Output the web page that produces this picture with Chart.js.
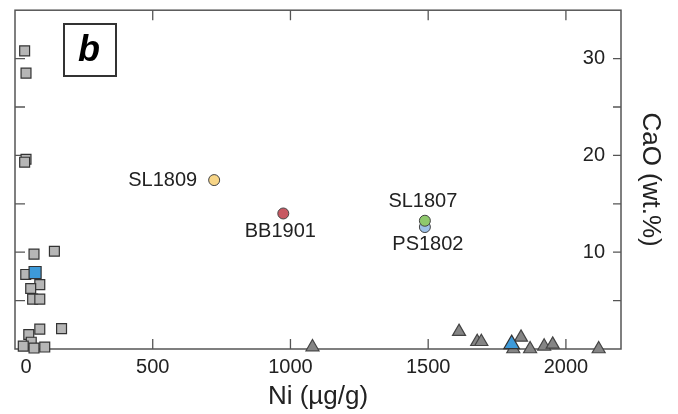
<!DOCTYPE html>
<html>
<head>
<meta charset="utf-8">
<script src="https://cdn.jsdelivr.net/npm/chart.js@4/dist/chart.umd.min.js"></script>
<style>
  html, body { margin: 0; padding: 0; background: #fff; }
  #wrap { width: 678px; height: 414px; }
</style>
</head>
<body>
<div id="wrap"><canvas id="chart" width="678" height="414"></canvas></div>
<script>
// data: Ni (µg/g) vs CaO (wt.%)
const squareNi  = [35, 40, 40, 35, 69, 143, 39, 90, 57, 64, 90, 90, 169, 50, 59, 30, 69, 108];
const squareCaO = [30.8, 28.5, 19.6, 19.3, 9.8, 10.1, 7.7, 6.65, 6.25, 5.15, 5.15, 2.05, 2.1, 1.5, 0.7, 0.3, 0.1, 0.2];
const blueSquareNi  = [73];
const blueSquareCaO = [7.9];

const triangleNi  = [1080, 1612, 1678, 1693, 1837, 1809, 1870, 1921, 1952, 2119];
const triangleCaO = [0.2, 1.8, 0.75, 0.75, 1.2, 0, 0, 0.28, 0.48, 0];
const blueTriangleNi  = [1803];
const blueTriangleCaO = [0.5];

const sampleNames = ["SL1807", "PS1802", "SL1809", "BB1901"];
const sampleNi    = [1488, 1488, 723, 974];
const sampleCaO   = [13.25, 12.6, 17.45, 14.0];
const sampleColors = ["#8fc96d", "#9dc1e8", "#f7d587", "#c75862"];

const xTicks = [0, 500, 1000, 1500, 2000];
const yTicks = [10, 20, 30];
const yMinorTicks = [5, 10, 15, 20, 25, 30];

function toPoints(xs, ys) {
    return xs.map((x, i) => ({ x: x, y: ys[i] }));
}

const FONT = "'Liberation Sans', Arial, sans-serif";

// label offsets relative to each sample point (pixels)
const labelPlace = {
    "SL1807": { dx: -2, dy: -19, align: "center" },
    "PS1802": { dx: 3, dy: 17, align: "center" },
    "SL1809": { dx: -17, dy: 0, align: "right" },
    "BB1901": { dx: -3, dy: 18, align: "center" }
};

// frame with inward tick marks
const frameTicks = {
    id: 'frameTicks',
    beforeDatasetsDraw(chart) {
        const { ctx, chartArea: a, scales } = chart;
        ctx.save();
        ctx.strokeStyle = '#555';
        ctx.lineWidth = 1.5;
        ctx.strokeRect(a.left, a.top, a.right - a.left, a.bottom - a.top);
        ctx.lineWidth = 1.3;
        ctx.beginPath();
        xTicks.forEach(v => {
            if (v === 0) return;
            const px = scales.x.getPixelForValue(v);
            ctx.moveTo(px, a.bottom);
            ctx.lineTo(px, a.bottom - 10);
            ctx.moveTo(px, a.top);
            ctx.lineTo(px, a.top + 10);
        });
        yMinorTicks.forEach(v => {
            const py = scales.y.getPixelForValue(v);
            ctx.moveTo(a.left, py);
            ctx.lineTo(a.left + 10, py);
            ctx.moveTo(a.right, py);
            ctx.lineTo(a.right - 8, py);
        });
        ctx.stroke();
        ctx.restore();
    },
    afterDatasetsDraw(chart) {
        const { ctx } = chart;
        ctx.save();
        // sample labels
        ctx.fillStyle = '#222';
        ctx.font = "20px " + FONT;
        ctx.textBaseline = 'middle';
        chart.data.datasets.forEach((ds, i) => {
            if (!ds.sampleName) return;
            const el = chart.getDatasetMeta(i).data[0];
            const p = labelPlace[ds.sampleName];
            ctx.textAlign = p.align;
            ctx.fillText(ds.sampleName, el.x + p.dx, el.y + p.dy);
        });
        // panel letter
        ctx.strokeStyle = '#333';
        ctx.lineWidth = 2;
        ctx.strokeRect(64, 24, 52, 52);
        ctx.fillStyle = '#000';
        ctx.font = "italic bold 36px " + FONT;
        ctx.textAlign = 'center';
        ctx.fillText('b', 89, 51);
        ctx.restore();
    }
};

const datasets = [
    {
        data: toPoints(blueSquareNi, blueSquareCaO),
        pointStyle: 'rect', pointRadius: 8.5,
        backgroundColor: '#3d9ad9', borderColor: '#333', borderWidth: 1.2, clip: false
    },
    {
        data: toPoints(blueTriangleNi, blueTriangleCaO),
        pointStyle: 'triangle', pointRadius: 9,
        backgroundColor: '#3d9ad9', borderColor: '#333', borderWidth: 1.2, clip: false
    }
];

sampleNames.forEach((name, i) => {
    datasets.push({
        sampleName: name,
        data: [{ x: sampleNi[i], y: sampleCaO[i] }],
        pointStyle: 'circle', pointRadius: 5.5,
        backgroundColor: sampleColors[i], borderColor: '#444', borderWidth: 1, clip: false
    });
});

datasets.push({
    data: toPoints(squareNi, squareCaO),
    pointStyle: 'rect', pointRadius: 7,
    backgroundColor: '#b6b6b6', borderColor: '#333', borderWidth: 1.2, clip: false
});
datasets.push({
    data: toPoints(triangleNi, triangleCaO),
    pointStyle: 'triangle', pointRadius: 7.5,
    backgroundColor: '#858585', borderColor: '#444', borderWidth: 1.2, clip: false
});

new Chart(document.getElementById('chart').getContext('2d'), {
    type: 'scatter',
    data: { datasets: datasets },
    options: {
        responsive: false,
        animation: false,
        layout: { padding: { left: 15, top: 8, right: 0, bottom: 0 } },
        plugins: {
            legend: { display: false },
            tooltip: { enabled: false }
        },
        elements: { point: { hoverRadius: 0 } },
        scales: {
            x: {
                type: 'linear',
                position: 'bottom',
                min: 0,
                max: 2200,
                afterBuildTicks: s => { s.ticks = xTicks.map(v => ({ value: v })); },
                afterFit: s => { s.height = 65; s.paddingLeft = 0; s.paddingRight = 0; },
                grid: { display: false, drawTicks: false },
                border: { display: false },
                ticks: {
                    color: '#222',
                    padding: 6,
                    maxRotation: 0,
                    // the 0 label sits a little right of the axis corner
                    callback: v => v === 0 ? '    0' : String(v),
                    font: { family: FONT, size: 20 }
                },
                title: {
                    display: true,
                    text: 'Ni (µg/g)',
                    color: '#222',
                    padding: { top: 0, bottom: 2 },
                    font: { family: FONT, size: 26 }
                }
            },
            y: {
                type: 'linear',
                position: 'right',
                min: 0,
                max: 35,
                afterBuildTicks: s => { s.ticks = yTicks.map(v => ({ value: v })); },
                afterFit: s => { s.width = 57; s.paddingTop = 0; s.paddingBottom = 0; },
                grid: { display: false, drawTicks: false },
                border: { display: false },
                ticks: {
                    mirror: true,
                    padding: -16,
                    color: '#222',
                    callback: v => String(v),
                    font: { family: FONT, size: 20 }
                },
                title: {
                    display: true,
                    text: 'CaO (wt.%)',
                    color: '#222',
                    padding: { top: 12, bottom: 0 },
                    font: { family: FONT, size: 26 }
                }
            }
        }
    },
    plugins: [frameTicks]
});
</script>
</body>
</html>
